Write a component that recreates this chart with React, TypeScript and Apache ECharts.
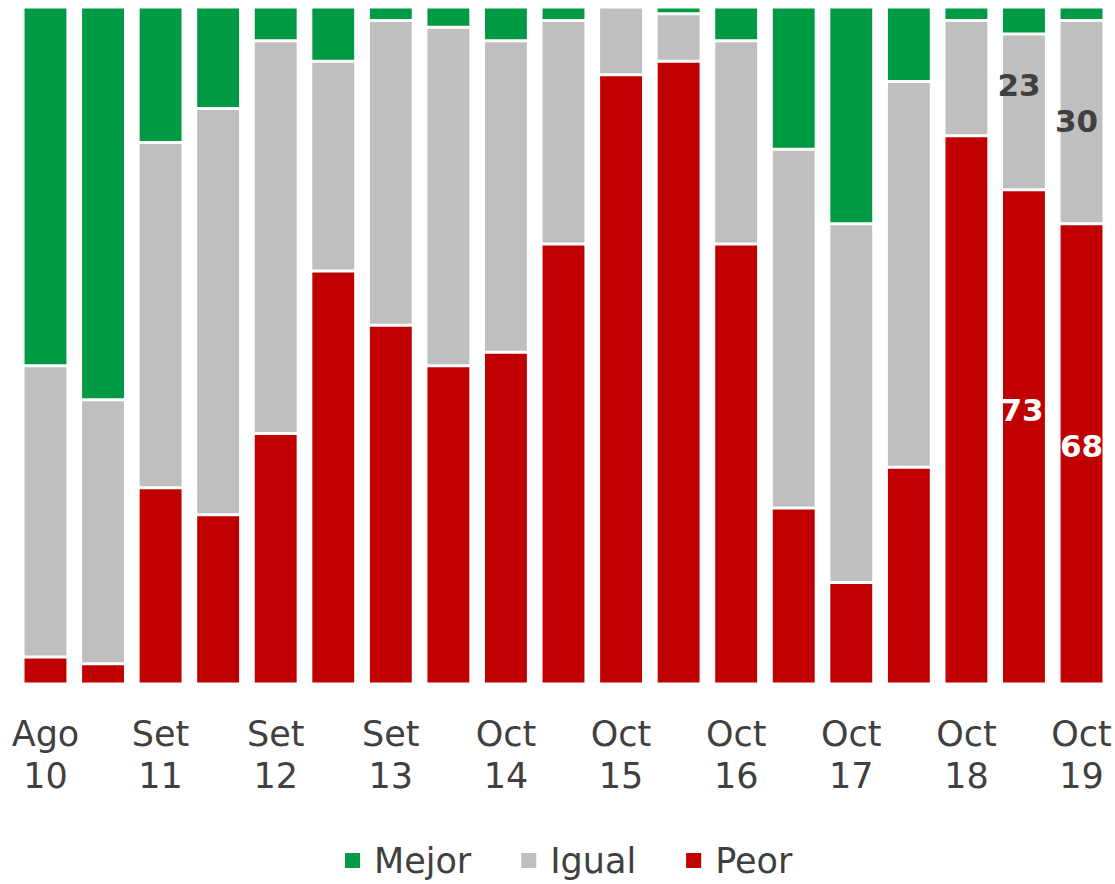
import React, { useEffect, useRef } from "react";
import * as echarts from "echarts";

const categories = [
  "Ago\n10", "", "Set\n11", "", "Set\n12", "", "Set\n13", "", "Oct\n14", "",
  "Oct\n15", "", "Oct\n16", "", "Oct\n17", "", "Oct\n18", "", "Oct\n19",
];
const peor = [4, 3, 29, 25, 37, 61, 53, 47, 49, 65, 90, 92, 65, 26, 15, 32, 81, 73, 68];
const igual = [43, 39, 51, 60, 58, 31, 45, 50, 46, 33, 10, 7, 30, 53, 53, 57, 17, 23, 30];
const mejor = [53, 58, 20, 15, 5, 8, 2, 3, 5, 2, 0, 1, 5, 21, 32, 11, 2, 4, 2];
const seriesNames = ["Peor", "Igual", "Mejor"];
const legendOrder = ["Mejor", "Igual", "Peor"];
// indices of bars whose values are printed
const labelledPeor = [17, 18];
const labelledIgual = [17, 18];

const FONT = "DejaVu Sans";
const COLORS: Record<string, string> = { Peor: "#C00000", Igual: "#BFBFBF", Mejor: "#009A44" };
// manual label nudges (as in the original)
const peorOffsets: Record<number, number[]> = { 17: [-2, -27], 18: [0, -8] };
const igualOffsets: Record<number, number[]> = { 17: [-5, -27], 18: [-5, -1] };

function buildData(values: number[], labelled: number[], offsets: Record<number, number[]>, color: string) {
  return values.map((v, i) =>
    labelled.includes(i)
      ? {
          value: v,
          label: {
            show: true,
            position: "inside",
            offset: offsets[i] || [0, 0],
            color,
            fontFamily: FONT,
            fontWeight: "bold",
            fontSize: 31,
            formatter: "{c}",
          },
        }
      : v
  );
}

export default function App() {
  const ref = useRef<HTMLDivElement>(null);
  useEffect(() => {
    if (!ref.current) return;
    const chart = echarts.init(ref.current, undefined, { renderer: "svg" });
    const mk = (name: string, data: any[]) => ({
      name,
      type: "bar",
      stack: "total",
      barWidth: "78%",
      data,
      itemStyle: { color: COLORS[name], borderColor: "#ffffff", borderWidth: 1.5 },
      label: { show: false },
    });
    chart.setOption({
      animation: false,
      grid: { left: 16.7, right: 4.7, top: 7, bottom: 200, containLabel: false },
      xAxis: {
        type: "category",
        data: categories,
        axisLine: { show: false },
        axisTick: { show: false },
        axisLabel: {
          interval: 0,
          color: "#404040",
          fontFamily: FONT,
          fontSize: 35,
          lineHeight: 42,
          margin: 29,
        },
      },
      yAxis: { type: "value", min: 0, max: 100, show: false },
      legend: {
        data: legendOrder,
        left: 338,
        top: 838,
        itemWidth: 17,
        itemHeight: 17,
        itemGap: 48,
        icon: "rect",
        textStyle: { color: "#404040", fontFamily: FONT, fontSize: 35, padding: [0, 0, 0, 8] },
      },
      series: [
        mk(seriesNames[0], buildData(peor, labelledPeor, peorOffsets, "#ffffff")),
        mk(seriesNames[1], buildData(igual, labelledIgual, igualOffsets, "#404040")),
        mk(seriesNames[2], mejor),
      ],
    });
    return () => chart.dispose();
  }, []);
  return (
    <div
      ref={ref}
      style={{ position: "fixed", left: 0, top: 0, width: 1115, height: 884, background: "#fff" }}
    />
  );
}
